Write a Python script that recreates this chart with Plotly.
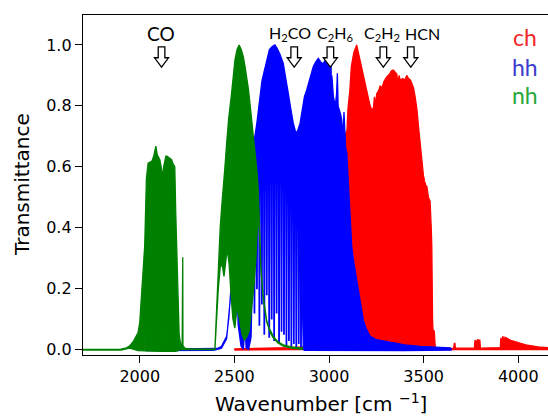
import plotly.graph_objects as go

# ---------------- data ----------------
# nh filter (green): upper / lower envelope of the densely oscillating spectrum
nh_hi_x = [1700, 1900, 1930, 1947, 1965, 1980, 1991, 2000, 2009, 2018, 2026, 2035, 2044, 2055, 2065, 2074, 2080,
           2085, 2092, 2100, 2106, 2113, 2120, 2126, 2132, 2138, 2144, 2152, 2160, 2168, 2176, 2185, 2190, 2194,
           2199, 2203, 2208, 2212, 2218, 2224, 2225, 2227, 2228, 2238, 2260, 2392, 2397, 2405, 2415, 2425, 2433,
           2441, 2450, 2459, 2470, 2485, 2495, 2503, 2514, 2525, 2536, 2547, 2556, 2565, 2574, 2582, 2591, 2600,
           2607, 2614, 2620, 2626, 2632, 2640, 2652, 2660, 2670, 2680, 2690, 2705, 2730, 2758, 2800, 2846, 2860]
nh_hi_y = [0.0, 0.001, 0.005, 0.012, 0.025, 0.04, 0.055, 0.09, 0.17, 0.25, 0.34, 0.56, 0.612, 0.615, 0.62, 0.635,
           0.65, 0.668, 0.64, 0.63, 0.623, 0.60, 0.565, 0.60, 0.625, 0.635, 0.635, 0.63, 0.625, 0.623, 0.61, 0.60,
           0.45, 0.338, 0.20, 0.12, 0.05, 0.032, 0.015, 0.012, 0.303, 0.303, 0.012, 0.004, 0.001, 0.001, 0.004,
           0.13, 0.28, 0.40, 0.47, 0.524, 0.60, 0.677, 0.76, 0.841, 0.91, 0.951, 0.985, 1.0, 0.985, 0.962, 0.93,
           0.896, 0.855, 0.809, 0.755, 0.70, 0.66, 0.623, 0.58, 0.524, 0.40, 0.27, 0.175, 0.135, 0.097, 0.075,
           0.06, 0.043, 0.025, 0.015, 0.008, 0.005, 0.004]
nh_lo_x = [1700, 1900, 1947, 1965, 1990, 2027, 2028, 2029, 2107, 2108, 2109, 2140, 2141, 2142, 2190, 2203, 2212,
           2238, 2392, 2397, 2405, 2415, 2425, 2435, 2445, 2452, 2462, 2472, 2482, 2492, 2502, 2515, 2528, 2540,
           2552, 2565, 2578, 2590, 2602, 2614, 2624, 2632, 2640, 2652, 2670, 2690, 2705, 2730, 2758, 2800, 2846,
           2860]
nh_lo_y = [-0.002, -0.002, 0.004, 0.0, -0.004, -0.005, 0.06, -0.005, -0.006, 0.08, -0.006, -0.006, 0.10, -0.006,
           -0.006, -0.004, 0.0, 0.0, -0.001, 0.0, 0.09, 0.20, 0.27, 0.28, 0.24, 0.27, 0.33, 0.28, 0.18, 0.10, 0.07,
           0.14, 0.09, 0.05, 0.03, 0.04, 0.06, 0.12, 0.20, 0.30, 0.44, 0.39, 0.262, 0.168, 0.091, 0.055, 0.038,
           0.021, 0.011, 0.004, 0.001, 0.0]

# hh filter (blue)
hh_hi_x = [2030, 2390, 2410, 2432, 2450, 2459, 2470, 2478, 2485, 2492, 2497, 2501, 2504, 2507, 2511, 2520, 2530,
           2545, 2560, 2580, 2601, 2619, 2635, 2645, 2656, 2670, 2685, 2700, 2714, 2725, 2740, 2758, 2770, 2785,
           2798, 2811, 2825, 2835, 2847, 2860, 2870, 2882, 2900, 2917, 2930, 2943, 2955, 2963, 2970, 2980, 2988,
           2995, 3005, 3011, 3013, 3015, 3023, 3033, 3040, 3044, 3048, 3055, 3062, 3067, 3074, 3079, 3083, 3088,
           3094, 3102, 3110, 3120, 3130, 3146, 3160, 3170, 3181, 3195, 3205, 3217, 3250, 3300, 3340, 3400, 3481,
           3560, 3640, 3645]
hh_hi_y = [0.0, 0.001, 0.003, 0.01, 0.03, 0.043, 0.10, 0.16, 0.23, 0.31, 0.39, 0.60, 0.60, 0.45, 0.56, 0.57, 0.58,
           0.57, 0.60, 0.63, 0.67, 0.745, 0.83, 0.88, 0.91, 0.95, 0.985, 0.995, 1.0, 0.99, 0.97, 0.94, 0.89, 0.84,
           0.79, 0.743, 0.71, 0.72, 0.743, 0.79, 0.83, 0.852, 0.89, 0.929, 0.945, 0.956, 0.945, 0.94, 0.94, 0.95,
           0.95, 0.935, 0.93, 0.93, 0.70, 0.90, 0.83, 0.80, 0.84, 0.907, 0.80, 0.787, 0.77, 0.754, 0.70, 0.78,
           0.70, 0.66, 0.645, 0.557, 0.45, 0.338, 0.29, 0.229, 0.17, 0.13, 0.097, 0.07, 0.055, 0.043, 0.032, 0.026,
           0.021, 0.015, 0.01, 0.007, 0.005, 0.001]
# lower envelope of hh outside the absorption-line comb
hh_lo_pre_x = [2030, 2390, 2432, 2459, 2485, 2497, 2502, 2511, 2520, 2535, 2548, 2555, 2562, 2575, 2588, 2596]
hh_lo_pre_y = [-0.004, -0.003, 0.004, 0.036, 0.21, 0.36, 0.38, 0.28, 0.08, 0.01, 0.0, 0.09, 0.005, 0.0, 0.04, 0.25]
# absorption lines reaching down below the fringe minimum (2600-2860 cm-1)
hh_line_x = [2606, 2619, 2632, 2645, 2658, 2671, 2684, 2697, 2710, 2723, 2736, 2749, 2762, 2775, 2788, 2801,
             2814, 2827, 2840, 2852]
hh_line_base = [0.45, 0.50, 0.50, 0.52, 0.52, 0.54, 0.54, 0.55, 0.55, 0.55, 0.55, 0.55, 0.52, 0.50, 0.48, 0.45,
                0.42, 0.40, 0.40, 0.30]
hh_line_low = [0.12, 0.20, 0.08, 0.15, 0.05, 0.18, 0.04, 0.10, 0.03, 0.12, 0.02, 0.06, 0.05, 0.01, 0.03, 0.01,
               0.02, 0.01, 0.02, 0.01]
hh_lo_post_x = [2864, 2870, 3000, 3400, 3645]
hh_lo_post_y = [0.0, -0.003, -0.004, -0.004, -0.002]

# ch filter (red)
ch_hi_x = [2500, 2600, 2700, 2800, 2860, 2880, 2886, 3000, 3086, 3088, 3095, 3100, 3110, 3118, 3131, 3146, 3155,
           3164, 3172, 3181, 3190, 3199, 3208, 3217, 3224, 3226, 3228, 3234, 3240, 3245, 3252, 3262, 3270, 3280,
           3290, 3305, 3320, 3330, 3340, 3350, 3358, 3364, 3370, 3376, 3390, 3400, 3411, 3420, 3430, 3437, 3446,
           3455, 3464, 3473, 3482, 3490, 3499, 3503, 3505, 3507, 3510, 3517, 3525, 3534, 3540, 3543, 3547, 3549,
           3556, 3561, 3570, 3658, 3662, 3665, 3668, 3768, 3771, 3778, 3785, 3797, 3800, 3905, 3908, 3912, 3918,
           3925, 3930, 3940, 3950, 3960, 3975, 4000, 4040, 4080, 4120, 4170]
ch_hi_y = [0.002, 0.003, 0.005, 0.006, 0.008, 0.013, 0.008, 0.009, 0.01, 0.71, 0.72, 0.79, 0.85, 0.93, 0.975, 1.0,
           0.975, 0.95, 0.92, 0.895, 0.87, 0.85, 0.82, 0.80, 0.79, 0.74, 0.79, 0.79, 0.83, 0.80, 0.84, 0.85, 0.865,
           0.86, 0.88, 0.895, 0.905, 0.915, 0.918, 0.91, 0.905, 0.87, 0.90, 0.885, 0.89, 0.885, 0.90, 0.89, 0.885,
           0.874, 0.86, 0.83, 0.79, 0.73, 0.67, 0.62, 0.57, 0.56, 0.42, 0.55, 0.54, 0.535, 0.50, 0.486, 0.40, 0.34,
           0.10, 0.065, 0.06, 0.01, 0.004, 0.003, 0.02, 0.02, 0.004, 0.004, 0.03, 0.025, 0.032, 0.03, 0.004, 0.006,
           0.038, 0.02, 0.043, 0.03, 0.04, 0.035, 0.033, 0.03, 0.026, 0.022, 0.015, 0.01, 0.007, 0.005]
ch_lo_x = [2500, 3086, 3561, 3570, 4170]
ch_lo_y = [-0.002, 0.0, 0.0, -0.001, -0.001]

x_ticks = [2000, 2500, 3000, 3500, 4000]
y_ticks = [0.0, 0.2, 0.4, 0.6, 0.8, 1.0]

# molecule markers
mol_labels = ["CO", "H<sub>2</sub>CO", "C<sub>2</sub>H<sub>6</sub>", "C<sub>2</sub>H<sub>2</sub>", "HCN"]
mol_label_x = [2112, 2793, 3032, 3281, 3492]
mol_arrow_x = [2115, 2816, 3007, 3287, 3432]

filters = ["ch", "hh", "nh"]
line_colors = ["#ff0000", "#0000ff", "#008000"]
label_colors = ["#f02828", "#3c3cd0", "#28a83c"]

# ---------------- build hh lower envelope with its absorption lines ----------------
hh_lo_x = list(hh_lo_pre_x)
hh_lo_y = list(hh_lo_pre_y)
for lx, lb, ll in zip(hh_line_x, hh_line_base, hh_line_low):
    hh_lo_x += [lx - 3.0, lx - 1.2, lx + 1.2, lx + 3.0]
    hh_lo_y += [lb, ll, ll, lb]
hh_lo_x += hh_lo_post_x
hh_lo_y += hh_lo_post_y

# ---------------- figure ----------------
fig = go.Figure()
bands = [(ch_hi_x, ch_hi_y, ch_lo_x, ch_lo_y),
         (hh_hi_x, hh_hi_y, hh_lo_x, hh_lo_y),
         (nh_hi_x, nh_hi_y, nh_lo_x, nh_lo_y)]
for (hx, hy, lx, ly), name, col in zip(bands, filters, line_colors):
    fig.add_trace(go.Scatter(
        x=list(hx) + list(lx)[::-1], y=list(hy) + list(ly)[::-1],
        mode="lines", fill="toself", fillcolor=col,
        line=dict(color=col, width=1.3), name=name, showlegend=False, hoverinfo="skip"))

# arrows (hollow, pointing down)
px_unit = 5.3  # wavenumber units per pixel
for ax in mol_arrow_x:
    sw, hw = 3.3 * px_unit, 7.0 * px_unit
    top, mid, tip = 0.994, 0.958, 0.927
    path = (f"M {ax-sw},{top} L {ax+sw},{top} L {ax+sw},{mid} L {ax+hw},{mid} "
            f"L {ax},{tip} L {ax-hw},{mid} L {ax-sw},{mid} Z")
    fig.add_shape(type="path", path=path, xref="x", yref="y",
                  line=dict(color="black", width=1.3), fillcolor="white")

for lab, lx in zip(mol_labels, mol_label_x):
    fig.add_annotation(x=lx, y=1.037, xref="x", yref="y", text=lab, showarrow=False,
                       font=dict(family="Lato", size=19 if lab == "CO" else 16, color="black"),
                       xanchor="center", yanchor="middle")

legend_y = [1.026, 0.928, 0.836]
for name, col, ly in zip(filters, label_colors, legend_y):
    fig.add_annotation(x=4037, y=ly, xref="x", yref="y", text=name, showarrow=False,
                       font=dict(family="Lato", size=23, color=col), xanchor="center", yanchor="middle")

fig.add_annotation(x=-0.131, y=0.5, xref="paper", yref="paper", text="Transmittance", textangle=-90,
                   showarrow=False, font=dict(family="DejaVu Sans", size=20, color="black"),
                   xanchor="center", yanchor="middle")
fig.add_annotation(x=0.512, y=-0.142, xref="paper", yref="paper", text="Wavenumber [cm <sup>\u22121</sup>]",
                   showarrow=False, font=dict(family="DejaVu Sans", size=20, color="black"),
                   xanchor="center", yanchor="middle")

fig.update_xaxes(range=[1700, 4157], tickvals=x_ticks, ticks="outside", ticklen=7, tickwidth=1.2,
                 tickcolor="black", showline=True, linecolor="black", linewidth=1.3, mirror=True,
                 showgrid=False, zeroline=False,
                 tickfont=dict(family="DejaVu Sans", size=16, color="black"))
fig.update_yaxes(range=[-0.0184, 1.0985], tickvals=y_ticks, tickformat=".1f", ticks="outside", ticklen=7,
                 tickwidth=1.2, tickcolor="black", showline=True, linecolor="black", linewidth=1.3,
                 mirror=False, showgrid=False, zeroline=False,
                 tickfont=dict(family="DejaVu Sans", size=16, color="black"))
fig.update_layout(width=548, height=418, margin=dict(l=83, r=0, t=15, b=63),
                  paper_bgcolor="white", plot_bgcolor="white", showlegend=False)
fig.write_html("out.html")
